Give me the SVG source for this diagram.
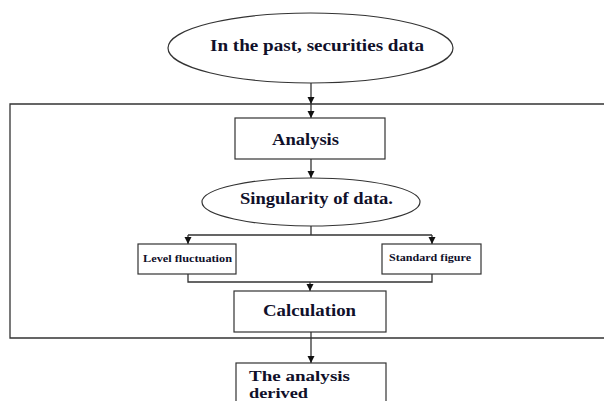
<svg xmlns="http://www.w3.org/2000/svg" width="604" height="401" viewBox="0 0 604 401">
<style>
.shape{fill:#fff;stroke:#333;stroke-width:1.2}
.frame{fill:none;stroke:#333;stroke-width:1.3}
.conn{fill:none;stroke:#333;stroke-width:1.3}
.t{font-family:"Liberation Serif","Times New Roman",serif;font-weight:bold;fill:#10102a;font-size:16.5px}
.s{font-size:10.5px}
.d{font-size:14.5px}
</style>
<defs>
<marker id="ah" markerUnits="userSpaceOnUse" markerWidth="8" markerHeight="8" refX="7" refY="4" orient="auto">
<path d="M0,0.5 L7,4 L0,7.5 Z" fill="#111"/>
</marker>
</defs>
<rect width="604" height="401" fill="#fff"/>
<g id="container">
<path class="frame" d="M606,104 H10 V338 H606"/>
</g>
<g id="connectors">
<path class="conn" d="M311,83 V104" marker-end="url(#ah)"/>
<path class="conn" d="M311,104 V118" marker-end="url(#ah)"/>
<path class="conn" d="M311,159 V178" marker-end="url(#ah)"/>
<path class="conn" d="M311,226 V235 M188,235 H432"/>
<path class="conn" d="M188,235 V244" marker-end="url(#ah)"/>
<path class="conn" d="M432,235 V244" marker-end="url(#ah)"/>
<path class="conn" d="M188,274 V282 H432 V274"/>
<path class="conn" d="M310,282 V291" marker-end="url(#ah)"/>
<path class="conn" d="M311,332 V363" marker-end="url(#ah)"/>
</g>
<g id="past">
<ellipse class="shape" cx="310.5" cy="48" rx="142.5" ry="35"/>
<text class="t" x="210" y="51" textLength="214" lengthAdjust="spacingAndGlyphs">In the past, securities data</text>
</g>
<g id="analysis">
<rect class="shape" x="235" y="118" width="150" height="41"/>
<text class="t" x="272" y="145" textLength="67" lengthAdjust="spacingAndGlyphs">Analysis</text>
</g>
<g id="singularity">
<ellipse class="shape" cx="311" cy="202" rx="109" ry="24"/>
<text class="t" x="240" y="204" textLength="153" lengthAdjust="spacingAndGlyphs">Singularity of data.</text>
</g>
<g id="level">
<rect class="shape" x="138" y="244" width="98" height="30"/>
<text class="t s" x="143" y="262" textLength="89" lengthAdjust="spacingAndGlyphs">Level fluctuation</text>
</g>
<g id="standard">
<rect class="shape" x="382" y="244" width="99" height="30"/>
<text class="t s" x="389" y="261" textLength="82" lengthAdjust="spacingAndGlyphs">Standard figure</text>
</g>
<g id="calculation">
<rect class="shape" x="234" y="291" width="152" height="41"/>
<text class="t" x="263" y="316" textLength="93" lengthAdjust="spacingAndGlyphs">Calculation</text>
</g>
<g id="derived">
<rect class="shape" x="236" y="363" width="150" height="50"/>
<text class="t d" x="249" y="381" textLength="101" lengthAdjust="spacingAndGlyphs">The analysis</text>
<text class="t d" x="249" y="398" textLength="59" lengthAdjust="spacingAndGlyphs">derived</text>
</g>
</svg>
